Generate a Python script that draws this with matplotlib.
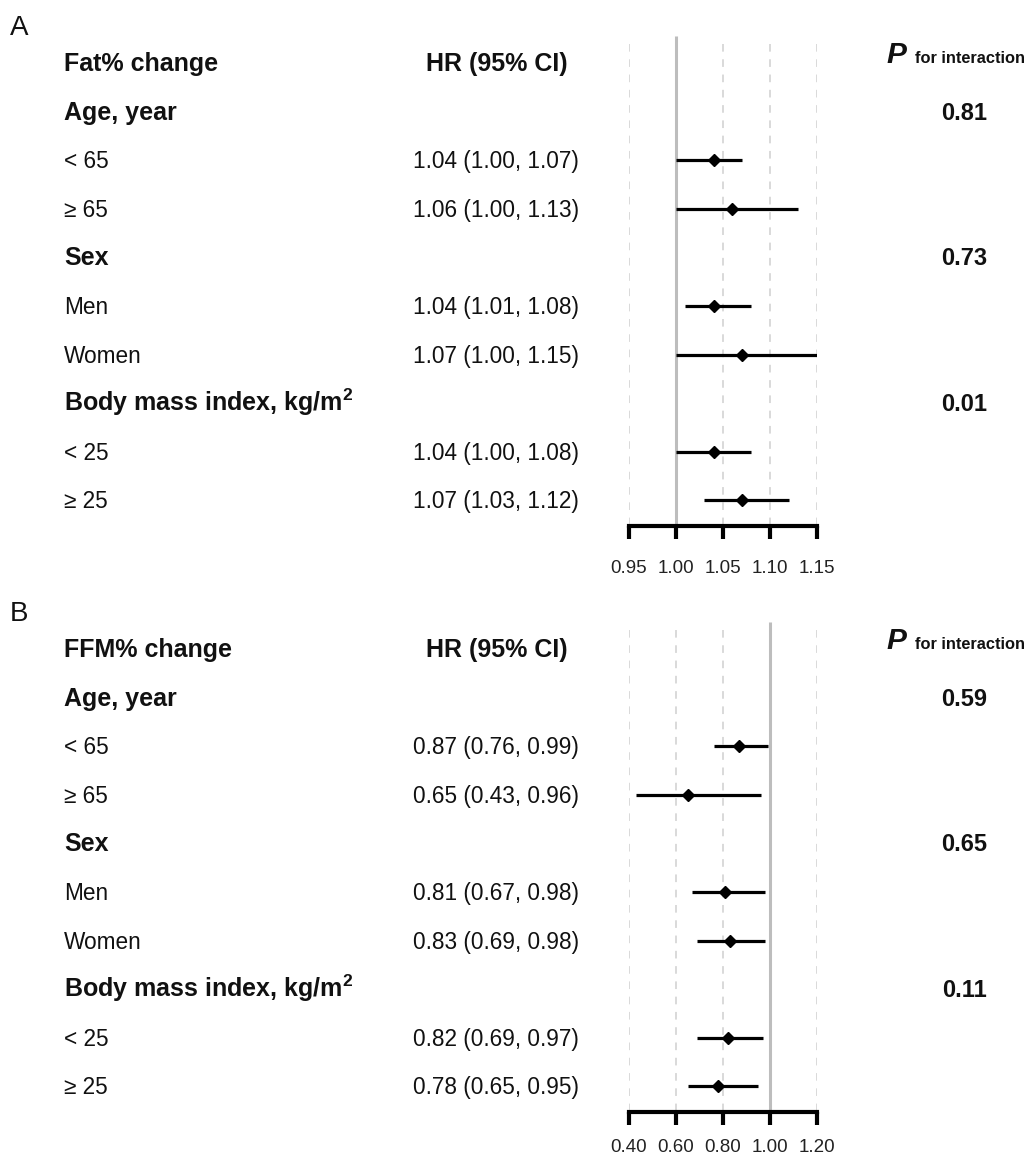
import matplotlib
matplotlib.use("Agg")
import matplotlib.pyplot as plt
from matplotlib.transforms import blended_transform_factory

plt.rcParams['font.family'] = ['Liberation Sans', 'DejaVu Sans']
plt.rcParams['mathtext.fontset'] = 'custom'
plt.rcParams['mathtext.rm'] = 'Liberation Sans'
plt.rcParams['mathtext.bf'] = 'Liberation Sans:bold'
plt.rcParams['mathtext.it'] = 'Liberation Sans:italic'

# ---------------- data ----------------
group_labels = ["Age, year", "Sex", r"Body mass index, kg/m$^{\mathbf{2}}$"]
subgroup_labels = ["< 65", "≥ 65", "Men", "Women", "< 25", "≥ 25"]

A_title = "Fat% change"
A_hr = [1.04, 1.06, 1.04, 1.07, 1.04, 1.07]
A_lo = [1.00, 1.00, 1.01, 1.00, 1.00, 1.03]
A_hi = [1.07, 1.13, 1.08, 1.15, 1.08, 1.12]
A_p = ["0.81", "0.73", "0.01"]
A_ticks = [0.95, 1.00, 1.05, 1.10, 1.15]

B_title = "FFM% change"
B_hr = [0.87, 0.65, 0.81, 0.83, 0.82, 0.78]
B_lo = [0.76, 0.43, 0.67, 0.69, 0.69, 0.65]
B_hi = [0.99, 0.96, 0.98, 0.98, 0.97, 0.95]
B_p = ["0.59", "0.65", "0.11"]
B_ticks = [0.40, 0.60, 0.80, 1.00, 1.20]

ref_value = 1.00

W, H = 1028, 1155
fig = plt.figure(figsize=(W / 100, H / 100), dpi=100)

ROW = 48.6
group_rows = [1, 4, 7]
sub_rows = [2, 3, 5, 6, 8, 9]
TXT = '#111111'


def panel(letter, header_px, title, hr, lo, hi, pvals, ticks, pad):
    ytop, ybot = -0.6, 9.52
    top_px = header_px + ytop * ROW
    bot_px = header_px + ybot * ROW
    ax = fig.add_axes([629 / W, 1 - bot_px / H, 188 / W, (bot_px - top_px) / H])
    ax.set_xlim(ticks[0], ticks[-1])
    ax.set_ylim(ybot, ytop)
    for s in ['top', 'left', 'right']:
        ax.spines[s].set_visible(False)
    ax.spines['bottom'].set_linewidth(3)
    ax.spines['bottom'].set_color('black')
    ax.spines['bottom'].set_capstyle('projecting')
    ax.set_yticks([])
    ax.set_xticks(ticks)
    ax.set_xticklabels([f"{t:.2f}" for t in ticks])
    ax.tick_params(axis='x', direction='out', length=9, width=3, pad=pad,
                   labelsize=13.5, colors='black', labelcolor='#222222')
    ax.patch.set_alpha(0)

    for t in ticks:
        if abs(t - ref_value) < 1e-9:
            ax.vlines(t, -0.56, ybot, color='#bdbdbd', lw=2.2, zorder=1)
        else:
            ax.vlines(t, -0.4, ybot, color='#d0d0d0', lw=1.1,
                      linestyles=(0, (5, 5)), zorder=1)

    ax.hlines(sub_rows, lo, hi, color='black', lw=2.3, zorder=3)
    ax.plot(hr, sub_rows, linestyle='none', marker='D', ms=6.5,
            color='black', zorder=4)

    tr = blended_transform_factory(fig.transFigure, ax.transData)
    b = 8 / ROW  # baseline offset
    ax.text(10 / W, -0.78 + 10 / ROW, letter, transform=tr, fontsize=20,
            va='baseline', ha='left', color=TXT)
    ax.text(64 / W, 0 + b, title, transform=tr, fontsize=18, fontweight='bold',
            va='baseline', ha='left', color=TXT)
    ax.text(497 / W, 0 + b, "HR (95% CI)", transform=tr, fontsize=18,
            fontweight='bold', va='baseline', ha='center', color=TXT)
    ax.text(886 / W, 0.0, "P", transform=tr, fontsize=21.5, fontweight='bold',
            fontstyle='italic', va='baseline', ha='left', color=TXT)
    ax.text(1025 / W, 0.0, "for interaction", transform=tr, fontsize=11.8,
            fontweight='bold', va='baseline', ha='right', color=TXT)

    for r, lab, p in zip(group_rows, group_labels, pvals):
        ax.text(64 / W, r + b, lab, transform=tr, fontsize=18, fontweight='bold',
                va='baseline', ha='left', color=TXT)
        ax.text(987 / W, r + b, p, transform=tr, fontsize=17, fontweight='bold',
                va='baseline', ha='right', color=TXT)

    for r, lab, h, l, u in zip(sub_rows, subgroup_labels, hr, lo, hi):
        ax.text(64 / W, r + b, lab, transform=tr, fontsize=16.3,
                va='baseline', ha='left', color=TXT)
        ax.text(413 / W, r + b, f"{h:.2f} ({l:.2f}, {u:.2f})", transform=tr,
                fontsize=16.3, va='baseline', ha='left', color=TXT)
    return ax


panel("A", 63, A_title, A_hr, A_lo, A_hi, A_p, A_ticks, pad=15.5)
panel("B", 649, B_title, B_hr, B_lo, B_hi, B_p, B_ticks, pad=10.5)

fig.savefig("out.png", dpi=100, facecolor='white')
